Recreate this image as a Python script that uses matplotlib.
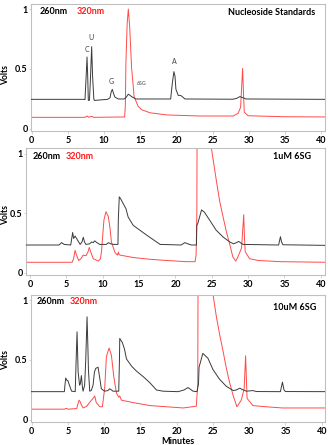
import matplotlib
matplotlib.use('Agg')
import matplotlib.pyplot as plt

plt.rcParams['font.family'] = ['Lato', 'DejaVu Sans']

# ---- data (time in minutes, signal in volts) ----
std_260_t = [0, 7.2, 7.38, 7.55, 7.66, 7.75, 7.84, 8.0, 8.12, 8.3, 8.42, 8.6, 8.67, 10.5, 10.83,
             11.0, 11.15, 11.35, 11.52, 11.98, 12.8, 13.03, 13.36, 13.6, 13.8, 14.4, 19.2, 19.43,
             19.65, 19.8, 19.93, 20.25, 20.5, 20.7, 21.17, 27.8, 28.3, 28.76, 29.1, 29.6, 40.5]
std_260_v = [0.247, 0.247, 0.245, 0.45, 0.60, 0.45, 0.238, 0.24, 0.40, 0.686, 0.45, 0.25, 0.238,
             0.247, 0.26, 0.31, 0.33, 0.29, 0.265, 0.25, 0.25, 0.262, 0.29, 0.28, 0.27, 0.25, 0.25,
             0.38, 0.478, 0.44, 0.33, 0.28, 0.28, 0.275, 0.25, 0.248, 0.255, 0.27, 0.262, 0.25, 0.247]

std_320_t = [0, 7.4, 7.66, 7.9, 8.3, 8.6, 12.85, 12.95, 13.03, 13.2, 13.36, 13.55, 13.8, 14.16,
             14.7, 15.2, 16.35, 18.64, 23.24, 27.83, 28.5, 28.85, 29.0, 29.13, 29.25, 29.36, 29.9,
             35, 40.5]
std_320_v = [0.097, 0.097, 0.108, 0.098, 0.105, 0.097, 0.10, 0.2, 0.56, 0.88, 1.0, 0.85, 0.52,
             0.27, 0.19, 0.16, 0.135, 0.117, 0.108, 0.108, 0.13, 0.18, 0.35, 0.505, 0.3, 0.14, 0.11,
             0.102, 0.1]

low_260_t = [-0.5, 4.0, 4.35, 4.7, 5.6, 5.87, 6.0, 6.2, 6.5, 6.9, 7.15, 7.33, 7.5, 7.7, 8.2, 8.48,
             8.7, 8.9, 9.2, 9.6, 10.5, 10.8, 11.1, 11.5, 12.1, 12.15, 12.28, 12.5, 12.8, 13.2, 13.5,
             14.2, 15.1, 16.0, 16.95, 17.9, 20.8, 21.3, 21.7, 22.2, 22.9, 22.95, 23.1, 23.6, 24.0,
             24.7, 25.6, 26.6, 27.5, 28.0, 28.4, 28.7, 29.3, 34.2, 34.45, 34.6, 34.8, 40.6]
low_260_v = [0.235, 0.235, 0.255, 0.24, 0.235, 0.34, 0.29, 0.31, 0.28, 0.24, 0.26, 0.30, 0.26,
             0.24, 0.245, 0.26, 0.255, 0.27, 0.255, 0.24, 0.24, 0.255, 0.245, 0.24, 0.24, 0.45,
             0.64, 0.62, 0.585, 0.54, 0.47, 0.40, 0.36, 0.32, 0.28, 0.24, 0.235, 0.255, 0.245,
             0.235, 0.235, 0.40, 0.42, 0.53, 0.51, 0.445, 0.36, 0.30, 0.26, 0.245, 0.255, 0.265,
             0.24, 0.235, 0.305, 0.26, 0.237, 0.232]

low_320_t = [-0.5, 5.8, 6.0, 6.2, 6.4, 6.7, 7.0, 7.3, 7.7, 8.0, 8.15, 8.4, 8.7, 9.4, 9.7, 9.85,
             10.17, 10.45, 10.77, 11.0, 11.2, 11.7, 12.05, 12.15, 12.25, 12.4, 14.2, 16.5, 18.8,
             21.5, 22.7, 22.85, 22.95, 23.05, 23.6, 24.3, 24.95, 25.65, 26.1, 26.6, 27.0, 27.5,
             27.9, 28.3, 28.6, 29.1, 29.25, 29.4, 29.5, 29.6, 30.2, 31.4, 34.4, 40.6]
low_320_v = [0.09, 0.09, 0.12, 0.19, 0.15, 0.105, 0.12, 0.15, 0.145, 0.18, 0.215, 0.17, 0.12,
             0.10, 0.12, 0.19, 0.445, 0.515, 0.475, 0.38, 0.26, 0.17, 0.15, 0.175, 0.155, 0.15,
             0.13, 0.115, 0.105, 0.095, 0.095, 0.15, 0.5, 2.5, 2.9, 1.7, 1.05, 0.77, 0.60, 0.46,
             0.35, 0.235, 0.135, 0.10, 0.135, 0.21, 0.35, 0.49, 0.3, 0.18, 0.12, 0.105, 0.095, 0.09]

high_260_t = [-0.1, 4.5, 4.6, 4.69, 4.85, 4.97, 5.2, 5.5, 6.0, 6.1, 6.25, 6.4, 6.6, 6.7, 6.85,
              7.0, 7.08, 7.3, 7.45, 7.63, 7.75, 7.82, 8.0, 8.2, 8.46, 8.65, 8.83, 9.15, 9.38,
              9.6, 10.07, 10.5, 10.76, 11.0, 11.2, 12.0, 12.1, 12.14, 12.5, 12.8, 13.06, 13.75,
              14.4, 15.4, 16.3, 17.2, 18.1, 20.2, 21.0, 21.56, 22.25, 22.8, 23.0, 23.08, 23.6,
              24.3, 25.0, 25.9, 26.85, 27.8, 28.2, 28.7, 29.0, 29.6, 30.5, 31, 34.3, 34.58, 34.8,
              35.0, 40.5]
high_260_v = [0.236, 0.236, 0.30, 0.35, 0.33, 0.33, 0.29, 0.24, 0.236, 0.45, 0.735, 0.40, 0.29,
              0.30, 0.37, 0.27, 0.24, 0.29, 0.5, 0.86, 0.6, 0.42, 0.24, 0.245, 0.29, 0.40, 0.43,
              0.44, 0.35, 0.26, 0.24, 0.245, 0.26, 0.25, 0.24, 0.24, 0.50, 0.68, 0.645, 0.59,
              0.51, 0.45, 0.41, 0.36, 0.31, 0.25, 0.24, 0.236, 0.25, 0.27, 0.24, 0.236, 0.30,
              0.44, 0.555, 0.515, 0.42, 0.34, 0.28, 0.245, 0.25, 0.265, 0.255, 0.24, 0.245,
              0.237, 0.236, 0.315, 0.25, 0.237, 0.236]

high_320_t = [-0.1, 4.5, 4.77, 5.0, 6.2, 6.4, 6.53, 6.7, 6.85, 7.1, 7.6, 8.1, 8.46, 8.69, 8.9,
              9.38, 9.75, 10.07, 10.3, 10.67, 10.99, 11.3, 11.68, 12.0, 12.14, 12.37, 13.98,
              16.3, 18.6, 20.9, 22.7, 22.9, 23.0, 23.8, 24.5, 25.0, 25.47, 25.93, 26.4, 26.85,
              27.3, 27.8, 28.3, 28.9, 29.3, 29.5, 29.7, 30.5, 32.3, 34.6, 40.5]
high_320_v = [0.09, 0.09, 0.097, 0.09, 0.095, 0.14, 0.165, 0.15, 0.125, 0.10, 0.115, 0.155,
              0.18, 0.20, 0.145, 0.11, 0.11, 0.27, 0.53, 0.60, 0.54, 0.37, 0.225, 0.19, 0.2,
              0.165, 0.145, 0.12, 0.11, 0.10, 0.115, 0.3, 2.5, 3.0, 1.6, 1.05, 0.86, 0.71, 0.57,
              0.43, 0.31, 0.2, 0.11, 0.165, 0.26, 0.535, 0.18, 0.12, 0.11, 0.10, 0.10]

panel_titles = ['Nucleoside Standards', '1uM 6SG', '10uM 6SG']
peak_names = ['C', 'U', 'G', '6SG', 'A']
peak_label_t = [7.6, 8.2, 11.05, 15.2, 19.65]
peak_label_v = [0.63, 0.735, 0.365, 0.36, 0.53]

W, H = 328, 445
BLACK = '#3a3a3a'
RED = '#ff4a4a'
FRAME = '#c0c0c0'


def box(l, t, r, b):
    # pixel box -> figure fraction
    return [l / W, 1 - b / H, (r - l) / W, (b - t) / H]


def ftext(fig, x, y, s, **kw):
    fig.text(x / W, 1 - y / H, s, **kw)


fig = plt.figure(figsize=(W / 100, H / 100), dpi=100, facecolor='white')

panels = [
    # axes box, xlim, ylim, traces
    (box(31, 4, 325, 131), (-0.07, 40.5), (-0.017, 1.042), std_260_t, std_260_v, std_320_t, std_320_v),
    (box(26, 148, 325, 275), (-0.55, 40.58), (-0.017, 1.05), low_260_t, low_260_v, low_320_t, low_320_v),
    (box(31, 295, 325, 422), (-0.1, 40.45), (-0.017, 1.042), high_260_t, high_260_v, high_320_t, high_320_v),
]

axes = []
for rect, xl, yl, bt, bv, rt, rv in panels:
    ax = fig.add_axes(rect)
    ax.plot(rt, rv, color=RED, lw=0.7, zorder=2)
    ax.plot(bt, bv, color=BLACK, lw=0.7, zorder=3)
    ax.set_xlim(*xl)
    ax.set_ylim(*yl)
    ax.set_xticks(range(0, 41, 5))
    ax.set_yticks([0, 0.5, 1])
    ax.set_yticklabels(['0', '0.5', '1'])
    for sp in ax.spines.values():
        sp.set_color(FRAME)
        sp.set_linewidth(0.8)
    ax.tick_params(axis='x', length=2, width=0.5, color=FRAME, pad=1.5, labelsize=6.5)
    ax.tick_params(axis='y', length=1.5, width=0.5, color=FRAME, pad=1, labelsize=6.5)
    for lab in ax.get_xticklabels() + ax.get_yticklabels():
        lab.set_fontweight('bold')
    axes.append(ax)

# "Volts" labels placed at a fixed distance from the figure edge
for yc in [75, 215, 360]:
    ftext(fig, 6, yc, 'Volts', fontsize=6.2, fontweight='bold', rotation=90,
          ha='center', va='center')

axes[2].set_xlabel('Minutes', fontsize=6.5, fontweight='bold', labelpad=1)

# peak names on the standards run
for name, t, v in zip(peak_names, peak_label_t, peak_label_v):
    axes[0].text(t, v, name, ha='center', va='bottom', color='#404040',
                 fontsize=3.8 if name == '6SG' else 5)

# wavelength keys and run titles
key_pos = [(40, 12), (33, 157), (37, 302)]
red_off = [37, 33, 33]
title_pos = [(315, 12.5), (311, 157), (316, 307)]
for i in range(3):
    kx, ky = key_pos[i]
    ftext(fig, kx, ky, '260nm', fontsize=6.5, fontweight='bold', color='black', va='center')
    ftext(fig, kx + red_off[i], ky, '320nm', fontsize=6.5, fontweight='bold', color='#ff1a1a', va='center')
    tx, ty = title_pos[i]
    ftext(fig, tx, ty, panel_titles[i], fontsize=6.5, fontweight='bold', color='black',
          va='center', ha='right')

fig.savefig('out.png', dpi=100, facecolor='white')
